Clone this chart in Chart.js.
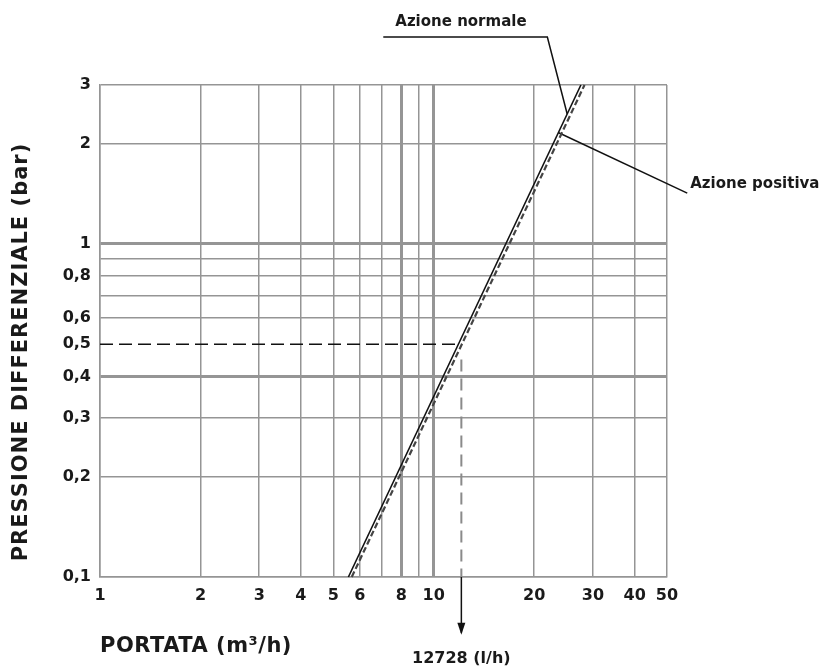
<!DOCTYPE html>
<html>
<head>
<meta charset="utf-8">
<script src="https://cdn.jsdelivr.net/npm/chart.js@4.4.1/dist/chart.umd.min.js"></script>
<style>
  html, body { margin: 0; padding: 0; background: #ffffff; }
  #wrap { width: 840px; height: 668px; position: relative; }
</style>
</head>
<body>
<div id="wrap"><canvas id="c" width="840" height="668"></canvas></div>
<script>
// ---- data ----
const xTicks = [1, 2, 3, 4, 5, 6, 7, 8, 9, 10, 20, 30, 40, 50];
const xTickLabels = ['1', '2', '3', '4', '5', '6', '', '8', '', '10', '20', '30', '40', '50'];
const yTicks = [0.1, 0.2, 0.3, 0.4, 0.5, 0.6, 0.7, 0.8, 0.9, 1, 2, 3];
const yTickLabels = ['0,1', '0,2', '0,3', '0,4', '0,5', '0,6', '', '0,8', '', '1', '2', '3'];
const xBoldGrid = [8, 10];
const yBoldGrid = [0.4, 1];
const yNoGrid = [0.5];

const normaleQ = [5.55, 27.6];
const normaleP = [0.1, 3];
const positivaQ = [5.68, 28.3];
const positivaP = [0.1, 3];

const readP = 0.5;
const readQ = 12.1;
const readLabel = '12728 (l/h)';
const arrowEndP = 0.068;

const normaleLeaderQ = [7.06, 21.9, 25.1];
const normaleLeaderP = [4.18, 4.18, 2.46];
const positivaLeaderQ = [23.6, 57.5, 165];
const positivaLeaderP = [2.16, 1.42, 1.42];

const labelNormale = 'Azione normale';
const labelPositiva = 'Azione positiva';
const xTitle = 'PORTATA (m\u00B3/h)';
const yTitle = 'PRESSIONE DIFFERENZIALE (bar)';

// ---- helpers ----
const zip = (xs, ys) => xs.map((x, i) => ({ x: x, y: ys[i] }));
const FONT = '"DejaVu Sans", "Liberation Sans", Arial, sans-serif';
const GRID = '#959595';

const extras = {
  id: 'extras',
  afterDatasetsDraw(chart) {
    const ctx = chart.ctx;
    const xs = chart.scales.x, ys = chart.scales.y;
    const px = v => xs.getPixelForValue(v);
    const py = v => ys.getPixelForValue(v);
    ctx.save();
    // arrow head at the end of the reading line
    const ax = px(readQ), ay = py(arrowEndP);
    ctx.fillStyle = '#111';
    ctx.beginPath();
    ctx.moveTo(ax, ay + 2);
    ctx.lineTo(ax - 4, ay - 10);
    ctx.lineTo(ax + 4, ay - 10);
    ctx.closePath();
    ctx.fill();

    ctx.fillStyle = '#1a1a1a';
    // callout labels
    ctx.font = 'bold 15px ' + FONT;
    ctx.textAlign = 'left';
    ctx.textBaseline = 'alphabetic';
    ctx.fillText(labelNormale, px(normaleLeaderQ[0]) + 12, py(normaleLeaderP[0]) - 11);
    ctx.fillText(labelPositiva, px(positivaLeaderQ[1]) + 3, py(positivaLeaderP[1]) - 5);

    // reading value
    ctx.font = 'bold 16px ' + FONT;
    ctx.textAlign = 'center';
    ctx.fillText(readLabel, px(readQ), 663);

    // x title
    ctx.font = 'bold 21px ' + FONT;
    ctx.letterSpacing = '0.5px';
    ctx.textAlign = 'left';
    ctx.fillText(xTitle, xs.left, 652);

    // y title
    ctx.letterSpacing = '1px';
    ctx.translate(27, 352);
    ctx.rotate(-Math.PI / 2);
    ctx.textAlign = 'center';
    ctx.fillText(yTitle, 0, 0);
    ctx.restore();
  }
};

const lineDs = (data, opts) => Object.assign({
  data: data,
  borderColor: '#111',
  borderWidth: 1.5,
  pointRadius: 0,
  fill: false,
  tension: 0,
  clip: false
}, opts);

new Chart(document.getElementById('c'), {
  type: 'scatter',
  data: {
    datasets: [
      lineDs(zip(normaleQ, normaleP), { label: labelNormale, showLine: true, borderWidth: 1.6 }),
      lineDs(zip(positivaQ, positivaP), { label: labelPositiva, showLine: true, borderColor: '#444', borderWidth: 2.2, borderDash: [6, 3] }),
      lineDs(zip([1, readQ], [readP, readP]), { showLine: true, borderDash: [13, 6], borderWidth: 1.5 }),
      lineDs(zip([readQ, readQ], [readP * 0.9, 0.1]), { showLine: true, borderColor: '#8a8a8a', borderDash: [12, 7], borderWidth: 2 }),
      lineDs(zip([readQ, readQ], [0.1, arrowEndP]), { showLine: true, borderWidth: 1.5 }),
      lineDs(zip(normaleLeaderQ, normaleLeaderP), { showLine: true, borderWidth: 1.5 }),
      lineDs(zip(positivaLeaderQ, positivaLeaderP), { showLine: true, borderWidth: 1.5 })
    ]
  },
  options: {
    responsive: false,
    animation: false,
    devicePixelRatio: 1,
    layout: { padding: { top: 85, right: 173, left: 0, bottom: 0 } },
    plugins: { legend: { display: false }, tooltip: { enabled: false }, title: { display: false } },
    scales: {
      x: {
        type: 'logarithmic',
        min: 1, max: 50,
        afterBuildTicks: s => { s.ticks = xTicks.map(v => ({ value: v })); },
        afterFit: s => { s.height = 91; },
        ticks: {
          autoSkip: false, maxRotation: 0, padding: 9,
          color: '#1a1a1a',
          font: { family: FONT, size: 16, weight: 'bold' },
          callback: (v, i) => xTickLabels[i]
        },
        grid: {
          drawTicks: false,
          color: GRID,
          lineWidth: c => (c.tick && xBoldGrid.includes(c.tick.value)) ? 3 : 1.5
        },
        border: { display: true, color: GRID, width: 1.5 }
      },
      y: {
        type: 'logarithmic',
        min: 0.1, max: 3,
        afterBuildTicks: s => { s.ticks = yTicks.map(v => ({ value: v })); },
        afterFit: s => { s.width = 100; },
        ticks: {
          autoSkip: false, padding: 9,
          color: '#1a1a1a',
          font: { family: FONT, size: 16, weight: 'bold' },
          callback: (v, i) => yTickLabels[i]
        },
        grid: {
          drawTicks: false,
          color: c => (c.tick && yNoGrid.includes(c.tick.value)) ? 'rgba(0,0,0,0)' : GRID,
          lineWidth: c => (c.tick && yBoldGrid.includes(c.tick.value)) ? 3 : 1.5
        },
        border: { display: true, color: GRID, width: 1.5 }
      }
    }
  },
  plugins: [extras]
});
</script>
</body>
</html>
